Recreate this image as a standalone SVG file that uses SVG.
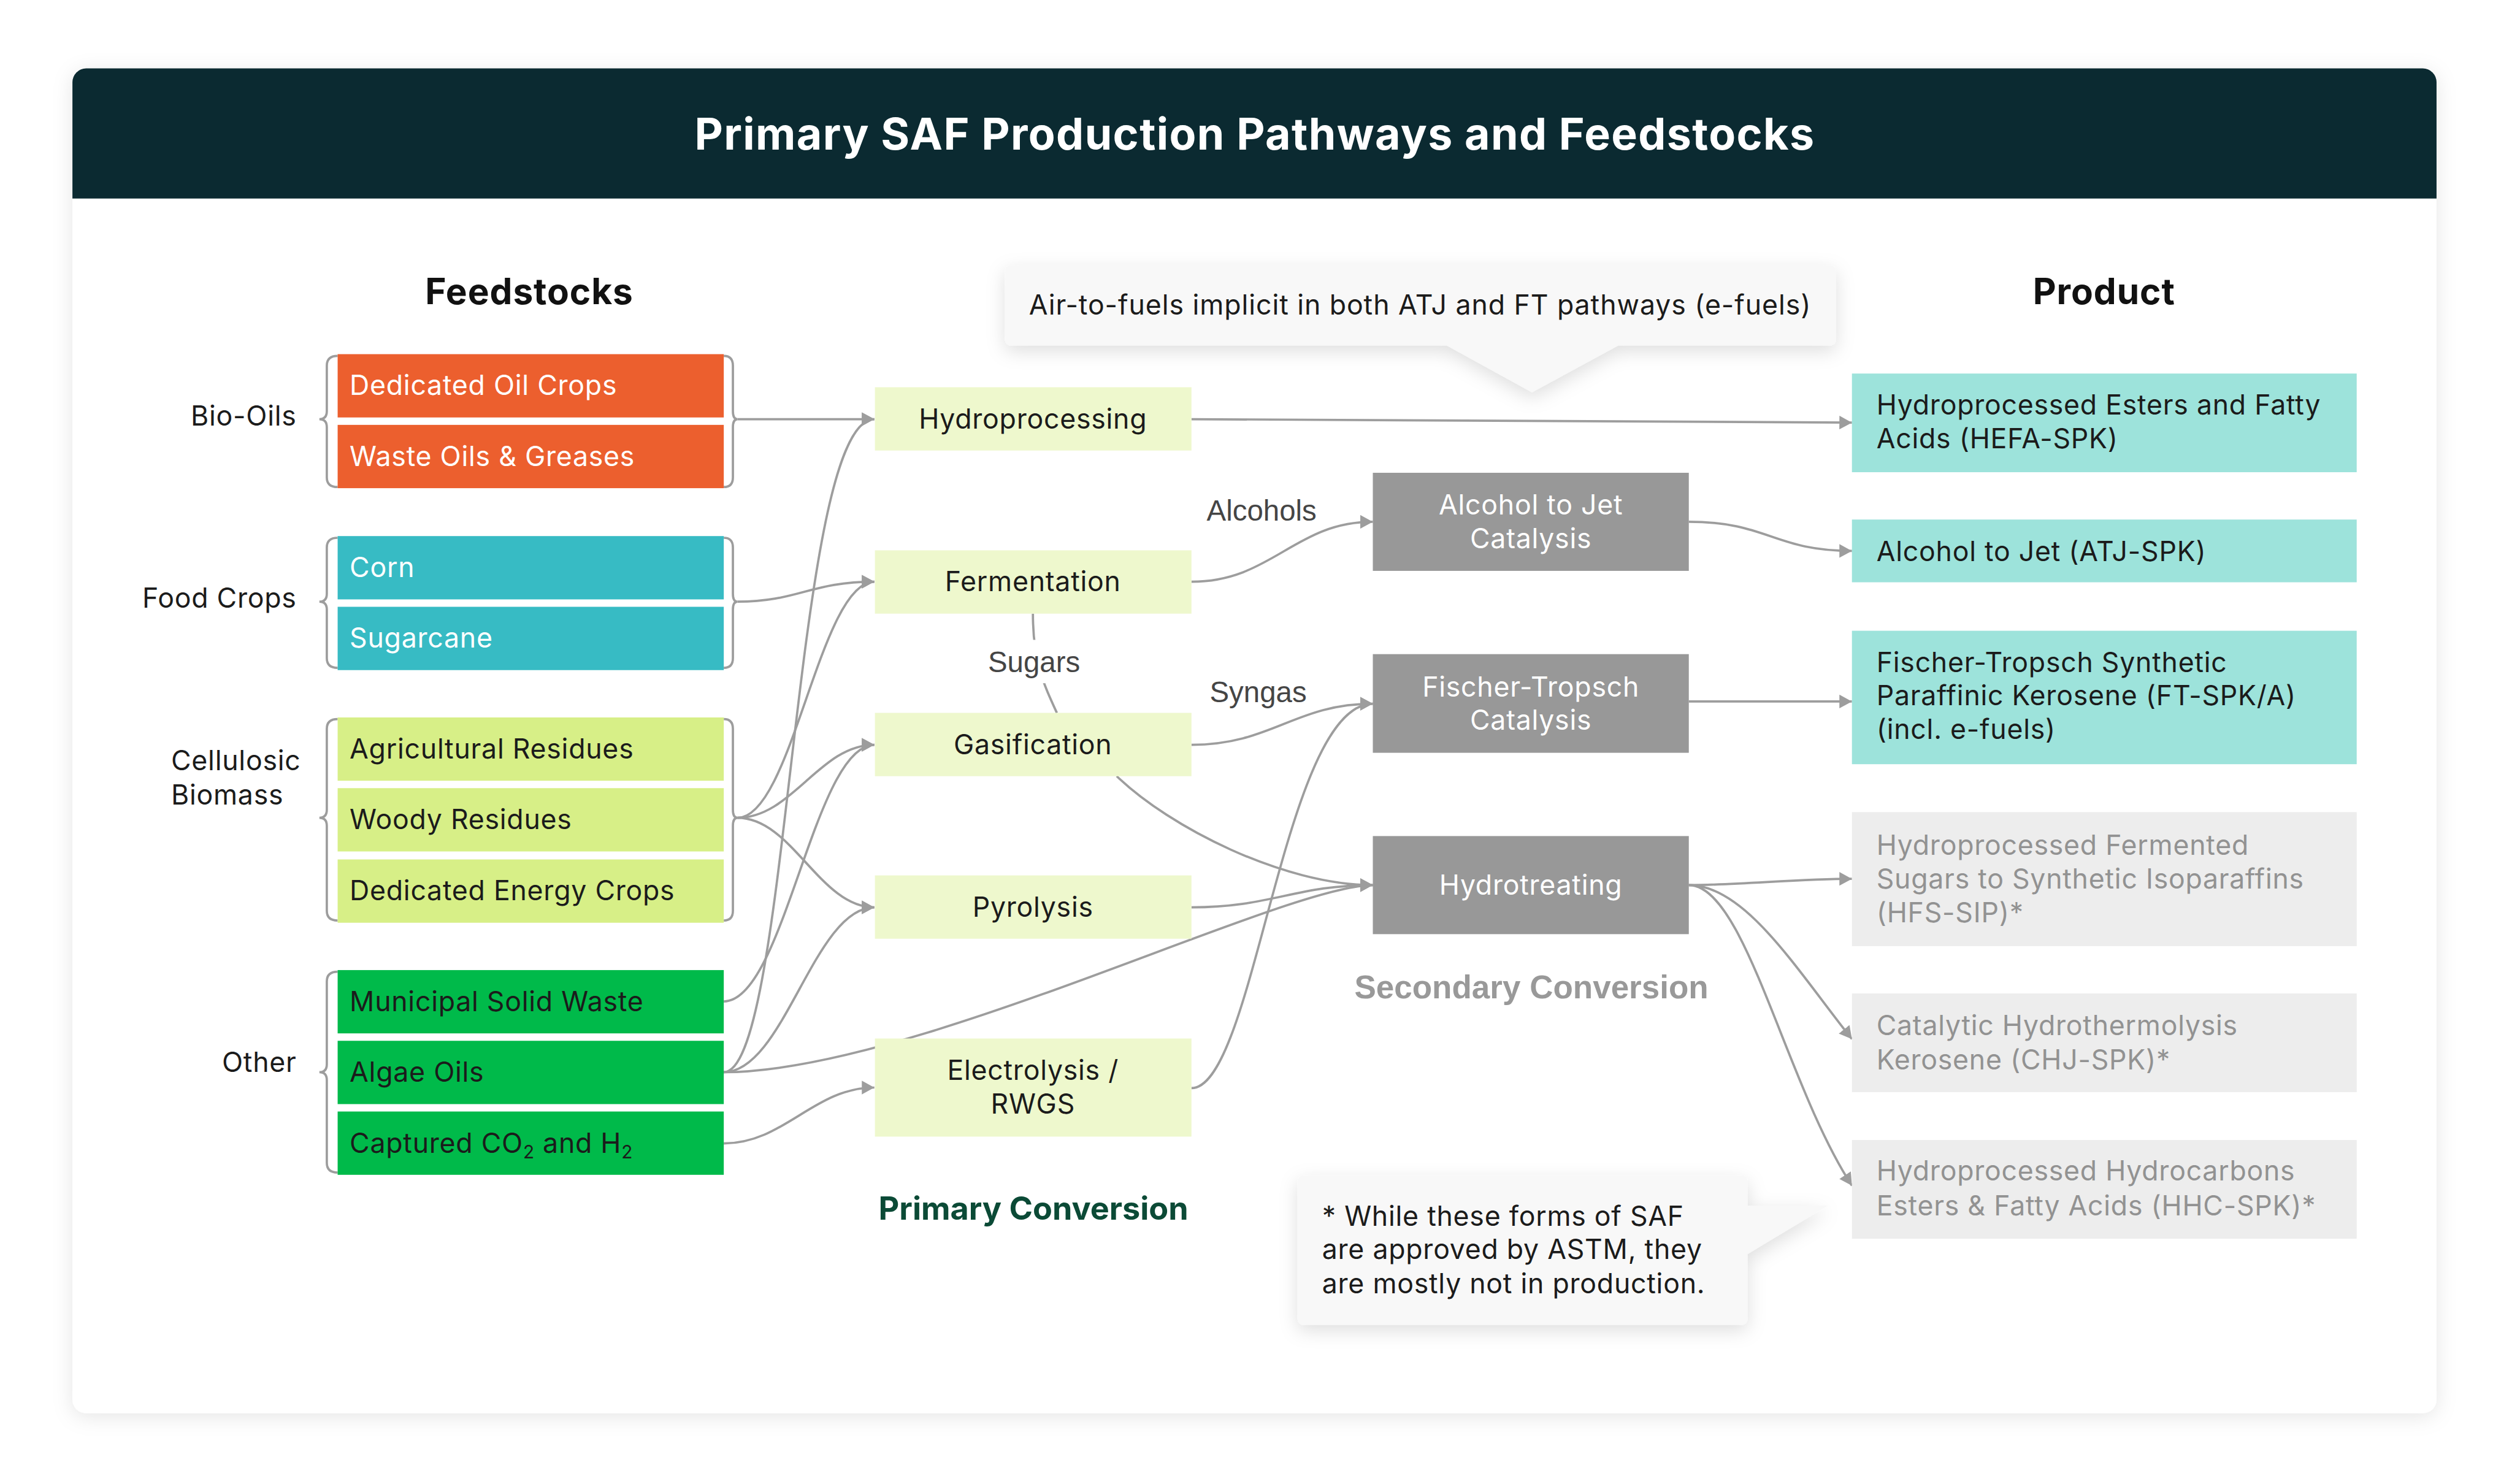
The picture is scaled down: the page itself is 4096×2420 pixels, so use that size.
<svg xmlns="http://www.w3.org/2000/svg" width="4096" height="2420" viewBox="0 0 4096 2420">
<defs>
<style>
text{font-family:Inter,"Liberation Sans",sans-serif;}
.t{font-size:48px;fill:#1b1b1b;letter-spacing:0.8px;}
.tw{font-size:48px;fill:#ffffff;letter-spacing:0.8px;}
.tg{font-size:48px;fill:#929292;letter-spacing:0.8px;}
.h{font-size:63px;font-weight:700;fill:#111111;letter-spacing:1px;}
.lab{font-family:"Liberation Sans",Arial,sans-serif;font-size:51px;fill:#454545;}
.c{text-anchor:middle;}
.e{text-anchor:end;}
.con{fill:none;stroke:#9d9d9d;stroke-width:4;}
.arr{marker-end:url(#ah);}
.brace{fill:none;stroke:#9d9d9d;stroke-width:4;}
.or{fill:#ec5f2e;}
.te{fill:#37bbc4;}
.lg{fill:#d7ef87;}
.gr{fill:#00ba4a;}
.pn{fill:#eef8cd;}
.sn{fill:#989898;}
.pt{fill:#9de3db;}
.pg{fill:#ededed;}
</style>
<marker id="ah" viewBox="0 0 22 24" refX="22" refY="12" markerWidth="22" markerHeight="24" markerUnits="userSpaceOnUse" orient="auto">
<path d="M0,0 L22,12 L0,24 Z" fill="#9d9d9d"/>
</marker>
<filter id="cardsh" x="-5%" y="-5%" width="110%" height="110%">
<feDropShadow dx="0" dy="6" stdDeviation="18" flood-color="#000" flood-opacity="0.10"/>
</filter>
<filter id="callsh" x="-20%" y="-40%" width="140%" height="180%">
<feDropShadow dx="0" dy="10" stdDeviation="16" flood-color="#000" flood-opacity="0.13"/>
</filter>
</defs>
<rect width="4096" height="2420" fill="#ffffff"/>
<g transform="scale(0.93)">
<g id="card">
<rect x="127" y="120" width="4145" height="2358" rx="24" fill="#ffffff" filter="url(#cardsh)"/>
<path d="M127,144 A24,24 0 0 1 151,120 H4248 A24,24 0 0 1 4272,144 V348 H127 Z" fill="#0b2a31"/>
<text x="2200" y="262" class="c" style="font-size:77px;font-weight:700;fill:#ffffff;letter-spacing:1.5px;">Primary SAF Production Pathways and Feedstocks</text>
</g>
<g id="headers">
<text x="928" y="533" class="h c">Feedstocks</text>
<text x="3689" y="533" class="h c">Product</text>
</g>
<g id="group-labels">
<text x="520" y="746" class="t e">Bio-Oils</text>
<text x="520" y="1066" class="t e">Food Crops</text>
<text x="300" y="1350" class="t">Cellulosic</text>
<text x="300" y="1411" class="t">Biomass</text>
<text x="520" y="1880" class="t e">Other</text>
</g>
<g id="braces">
<path class="brace" d="M592,624 Q573,624 573,641 V721 Q573,735 560,735 Q573,735 573,749 V837 Q573,854 592,854"/>
<path class="brace" d="M1269,624 Q1285,624 1285,641 V721 Q1285,735 1293,735 Q1285,735 1285,749 V837 Q1285,854 1269,854"/>
<path class="brace" d="M592,943 Q573,943 573,960 V1041 Q573,1055 560,1055 Q573,1055 573,1069 V1154 Q573,1171 592,1171"/>
<path class="brace" d="M1269,943 Q1285,943 1285,960 V1041 Q1285,1055 1293,1055 Q1285,1055 1285,1069 V1154 Q1285,1171 1269,1171"/>
<path class="brace" d="M592,1261 Q573,1261 573,1278 V1420 Q573,1434 560,1434 Q573,1434 573,1448 V1597 Q573,1614 592,1614"/>
<path class="brace" d="M1269,1261 Q1285,1261 1285,1278 V1420 Q1285,1434 1293,1434 Q1285,1434 1285,1448 V1597 Q1285,1614 1269,1614"/>
<path class="brace" d="M592,1704 Q573,1704 573,1721 V1866 Q573,1880 560,1880 Q573,1880 573,1894 V2039 Q573,2056 592,2056"/>
</g>
<g id="connectors">
<path class="con arr" d="M1293,735 H1533"/>
<path class="con arr" d="M1293,1055 C1400,1055 1420,1020 1533,1020"/>
<path class="con arr" d="M1293,1434 C1389,1434 1437,1020 1533,1020"/>
<path class="con arr" d="M1293,1434 C1389,1434 1437,1306 1533,1306"/>
<path class="con arr" d="M1293,1434 C1389,1434 1437,1591 1533,1591"/>
<path class="con arr" d="M1269,1756 C1375,1756 1427,1306 1533,1306"/>
<path class="con arr" d="M1269,1880 C1385,1880 1390,735 1533,735"/>
<path class="con arr" d="M1269,1880 C1375,1880 1427,1591 1533,1591"/>
<path class="con arr" d="M1269,1880 C1600,1880 2250,1552 2407,1552"/>
<path class="con arr" d="M1269,2005 C1375,2005 1427,1907 1533,1907"/>
<path class="con arr" d="M2089,735 L3247,741"/>
<path class="con arr" d="M2089,1020 C2230,1020 2270,915 2407,915"/>
<path class="con arr" d="M2089,1306 C2230,1306 2270,1234 2407,1234"/>
<path class="con arr" d="M2089,1908 C2200,1908 2250,1234 2407,1234"/>
<path class="con arr" d="M1958,1361 C2050,1450 2250,1552 2407,1552"/>
<path class="con arr" d="M2089,1591 C2230,1591 2270,1552 2407,1552"/>
<path class="con arr" d="M2961,915 C3100,915 3110,966 3247,966"/>
<path class="con arr" d="M2961,1230 H3247"/>
<path class="con arr" d="M2961,1552 C3050,1552 3150,1541 3247,1541"/>
<path class="con arr" d="M2961,1552 C3060,1552 3150,1700 3247,1822"/>
<path class="con arr" d="M2961,1552 C3060,1552 3130,1900 3247,2079"/>
<path class="con" d="M1811,1076 C1811,1160 1830,1200 1853,1250"/>
</g>
<g id="connector-labels">
<rect x="1728" y="1122" width="170" height="76" fill="#ffffff"/>
<text x="1813" y="1178" class="lab c">Sugars</text>
<text x="2212" y="913" class="lab c">Alcohols</text>
<text x="2206" y="1231" class="lab c">Syngas</text>
</g>
<g id="feed-dedicated-oil-crops"><rect class="or" x="592" y="621" width="677" height="111"/><text x="613" y="693" class="tw">Dedicated Oil Crops</text></g>
<g id="feed-waste-oils"><rect class="or" x="592" y="745" width="677" height="111"/><text x="613" y="817" class="tw">Waste Oils &amp; Greases</text></g>
<g id="feed-corn"><rect class="te" x="592" y="940" width="677" height="111"/><text x="613" y="1012" class="tw">Corn</text></g>
<g id="feed-sugarcane"><rect class="te" x="592" y="1064" width="677" height="111"/><text x="613" y="1136" class="tw">Sugarcane</text></g>
<g id="feed-agricultural-residues"><rect class="lg" x="592" y="1258" width="677" height="111"/><text x="613" y="1330" class="t">Agricultural Residues</text></g>
<g id="feed-woody-residues"><rect class="lg" x="592" y="1382" width="677" height="111"/><text x="613" y="1454" class="t">Woody Residues</text></g>
<g id="feed-energy-crops"><rect class="lg" x="592" y="1507" width="677" height="111"/><text x="613" y="1579" class="t">Dedicated Energy Crops</text></g>
<g id="feed-msw"><rect class="gr" x="592" y="1701" width="677" height="111"/><text x="613" y="1773" class="t">Municipal Solid Waste</text></g>
<g id="feed-algae"><rect class="gr" x="592" y="1825" width="677" height="111"/><text x="613" y="1897" class="t">Algae Oils</text></g>
<g id="feed-co2"><rect class="gr" x="592" y="1949" width="677" height="111"/><text x="613" y="2021" class="t">Captured CO<tspan font-size="32" dy="10">2</tspan><tspan dy="-10"> and H</tspan><tspan font-size="32" dy="10">2</tspan></text></g>
<g id="prim-hydroprocessing"><rect class="pn" x="1534" y="679" width="555" height="111"/><text x="1811" y="752" class="t c">Hydroprocessing</text></g>
<g id="prim-fermentation"><rect class="pn" x="1534" y="965" width="555" height="111"/><text x="1811" y="1037" class="t c">Fermentation</text></g>
<g id="prim-gasification"><rect class="pn" x="1534" y="1250" width="555" height="111"/><text x="1811" y="1323" class="t c">Gasification</text></g>
<g id="prim-pyrolysis"><rect class="pn" x="1534" y="1535" width="555" height="111"/><text x="1811" y="1607" class="t c">Pyrolysis</text></g>
<g id="prim-electrolysis"><rect class="pn" x="1534" y="1821" width="555" height="172"/><text x="1811" y="1894" class="t c">Electrolysis /</text><text x="1811" y="1953" class="t c">RWGS</text></g>
<text x="1812" y="2139" class="c" style="font-size:56px;font-weight:700;fill:#0b4a36;">Primary Conversion</text>
<g id="sec-atj"><rect class="sn" x="2407" y="829" width="554" height="172"/><text x="2684" y="902" class="tw c">Alcohol to Jet</text><text x="2684" y="961" class="tw c">Catalysis</text></g>
<g id="sec-ft"><rect class="sn" x="2407" y="1147" width="554" height="173"/><text x="2684" y="1221" class="tw c">Fischer-Tropsch</text><text x="2684" y="1280" class="tw c">Catalysis</text></g>
<g id="sec-hydrotreating"><rect class="sn" x="2407" y="1466" width="554" height="172"/><text x="2684" y="1569" class="tw c">Hydrotreating</text></g>
<text x="2685" y="1750" class="c" style="font-family:'Liberation Sans',Arial,sans-serif;font-size:57px;font-weight:700;fill:#999999;">Secondary Conversion</text>
<g id="prod-hefa"><rect class="pt" x="3247" y="655" width="885" height="173"/><text x="3290" y="727" class="t">Hydroprocessed Esters and Fatty</text><text x="3290" y="786" class="t">Acids (HEFA-SPK)</text></g>
<g id="prod-atj"><rect class="pt" x="3247" y="911" width="885" height="110"/><text x="3290" y="984" class="t">Alcohol to Jet (ATJ-SPK)</text></g>
<g id="prod-ft"><rect class="pt" x="3247" y="1106" width="885" height="234"/><text x="3290" y="1178" class="t">Fischer-Tropsch Synthetic</text><text x="3290" y="1237" class="t">Paraffinic Kerosene (FT-SPK/A)</text><text x="3290" y="1296" class="t">(incl. e-fuels)</text></g>
<g id="prod-hfs"><rect class="pg" x="3247" y="1424" width="885" height="235"/><text x="3290" y="1499" class="tg">Hydroprocessed Fermented</text><text x="3290" y="1558" class="tg">Sugars to Synthetic Isoparaffins</text><text x="3290" y="1617" class="tg">(HFS-SIP)*</text></g>
<g id="prod-chj"><rect class="pg" x="3247" y="1742" width="885" height="173"/><text x="3290" y="1815" class="tg">Catalytic Hydrothermolysis</text><text x="3290" y="1875" class="tg">Kerosene (CHJ-SPK)*</text></g>
<g id="prod-hhc"><rect class="pg" x="3247" y="1999" width="885" height="173"/><text x="3290" y="2070" class="tg">Hydroprocessed Hydrocarbons</text><text x="3290" y="2131" class="tg">Esters &amp; Fatty Acids (HHC-SPK)*</text></g>
<g id="callout-efuels">
<path d="M1772,465 H3209 A10,10 0 0 1 3219,475 V596 A10,10 0 0 1 3209,606 H2837 L2686,688 L2537,606 H1772 A10,10 0 0 1 1762,596 V475 A10,10 0 0 1 1772,465 Z" fill="#f8f8f8" filter="url(#callsh)"/>
<text x="1804" y="552" class="t" style="letter-spacing:1px;">Air-to-fuels implicit in both ATJ and FT pathways (e-fuels)</text>
</g>
<g id="callout-note">
<path d="M2285,2061 H3054 A10,10 0 0 1 3064,2071 V2114 H3205 L3064,2199 V2313 A10,10 0 0 1 3054,2323 H2285 A10,10 0 0 1 2275,2313 V2071 A10,10 0 0 1 2285,2061 Z" fill="#f8f8f8" filter="url(#callsh)"/>
<text x="2318" y="2149" class="t">* While these forms of SAF</text>
<text x="2318" y="2208" class="t">are approved by ASTM, they</text>
<text x="2318" y="2268" class="t">are mostly not in production.</text>
</g>
</g>
</svg>
